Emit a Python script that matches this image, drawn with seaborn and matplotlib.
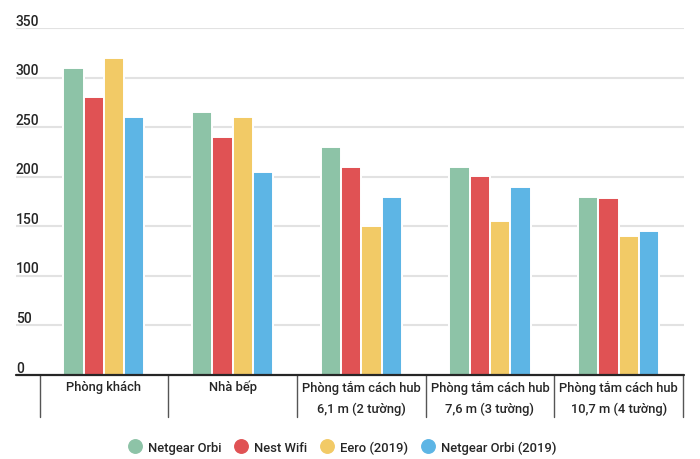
import pandas as pd
import matplotlib.pyplot as plt
import matplotlib.transforms as mtransforms
from matplotlib.lines import Line2D
import seaborn as sns

# data
categories = ['Phòng khách', 'Nhà bếp',
              'Phòng tắm cách hub\n6,1 m (2 tường)',
              'Phòng tắm cách hub\n7,6 m (3 tường)',
              'Phòng tắm cách hub\n10,7 m (4 tường)']
series = ['Netgear Orbi', 'Nest Wifi', 'Eero (2019)', 'Netgear Orbi (2019)']
netgear_orbi = [310, 265, 230, 210, 180]
nest_wifi = [280, 240, 210, 201, 179]
eero_2019 = [320, 260, 150, 155, 140]
netgear_orbi_2019 = [260, 205, 180, 190, 145]
y_ticks = [0, 50, 100, 150, 200, 250, 300, 350]

colors = ['#8DC3A7', '#E05254', '#F2CA66', '#5DB5E5']
text_color = '#262626'

values = [netgear_orbi, nest_wifi, eero_2019, netgear_orbi_2019]
rows = []
for name, vals in zip(series, values):
    for cat, v in zip(categories, vals):
        rows.append({'category': cat, 'router': name, 'speed': v})
df = pd.DataFrame(rows)

sns.set_style('white')
plt.rcParams['font.family'] = ['Roboto', 'DejaVu Sans']
plt.rcParams['font.weight'] = 'medium'

fig = plt.figure(figsize=(7, 4.6), dpi=100)
ax = fig.add_axes([16 / 700, 1 - 376 / 460, (684 - 16) / 700, (376 - 29) / 460])

sns.barplot(data=df, x='category', y='speed', hue='router', order=categories,
            hue_order=series, palette=colors, width=0.631, saturation=1,
            edgecolor='white', linewidth=1.4, legend=False, ax=ax, zorder=3)

ax.set_xlim(-0.683, 4.508)
ax.set_ylim(0, 350)
ax.set_xlabel('')
ax.set_ylabel('')
ax.set_xticks([])
ax.set_yticks([])
for s in ax.spines.values():
    s.set_visible(False)

# gridlines with labels sitting on top of them
for t in y_ticks:
    if t > 0:
        ax.axhline(t, color='#e2e2e2', lw=1.5, zorder=1)
    ax.text(0.0, t + 3.5, str(t), transform=ax.get_yaxis_transform(which='grid'),
            ha='left', va='baseline', fontsize=10, color=text_color)
ax.axhline(0, color=text_color, lw=1.6, zorder=4, clip_on=False)

# table-like category axis
trans = mtransforms.blended_transform_factory(ax.transData, ax.transAxes)
sep_bottom = -(418 - 376) / 347
for i in range(len(categories) + 1):
    ax.plot([i - 0.5, i - 0.5], [0, sep_bottom], color='#555555', lw=1,
            transform=trans, clip_on=False)
for i, cat in enumerate(categories):
    ax.text(i, -(381 - 376) / 347, cat, transform=trans, ha='center', va='top',
            fontsize=9.3, color=text_color, linespacing=1.75)

handles = [Line2D([], [], marker='o', ls='none', markersize=9.7,
                  markerfacecolor=c, markeredgecolor=c) for c in colors]
fig.legend(handles, series, loc='center', bbox_to_anchor=(0.489, 1 - 448 / 460),
           ncol=4, frameon=False, fontsize=9.4, handlelength=1.05,
           handletextpad=0.5, columnspacing=0.95, labelcolor=text_color)

fig.savefig('out.png', dpi=100)
